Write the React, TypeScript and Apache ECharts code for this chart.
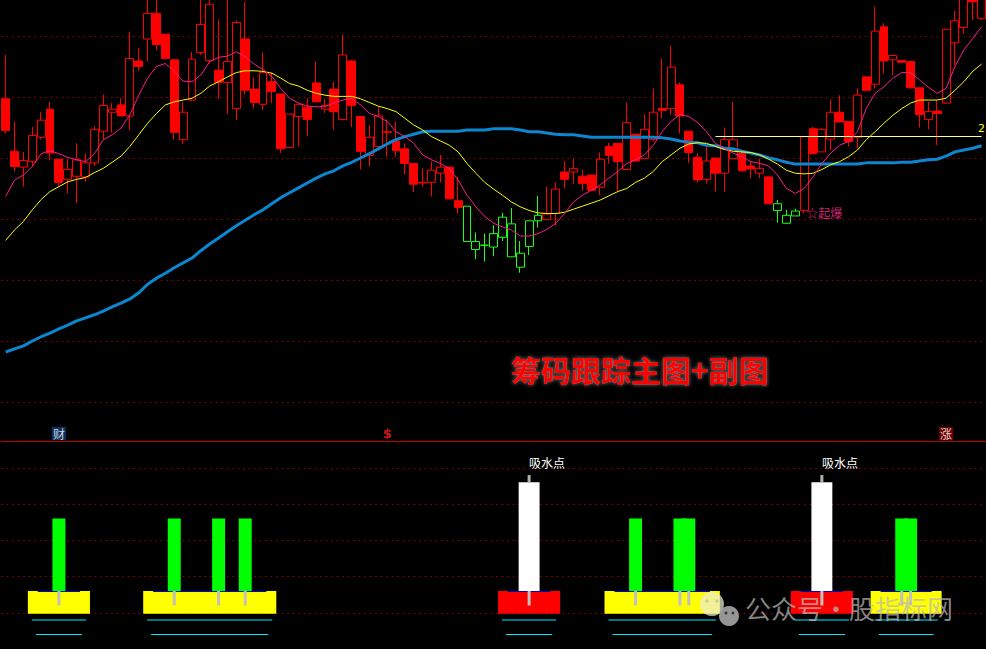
import React, { useEffect, useRef } from 'react';
import * as echarts from 'echarts';

// ---- main chart: daily candles [open, close, low, high] ----
const ohlc: number[][] = [
  [24.97, 24.45, 24.40, 25.69],
  [24.11, 23.86, 23.78, 24.60],
  [23.85, 23.96, 23.53, 24.10],
  [23.94, 24.37, 23.86, 24.51],
  [24.34, 24.62, 24.30, 24.75],
  [24.80, 24.08, 23.96, 24.92],
  [23.98, 23.60, 23.53, 23.98],
  [23.65, 23.81, 23.42, 23.98],
  [23.70, 23.97, 23.26, 24.24],
  [23.69, 23.92, 23.61, 24.07],
  [23.92, 24.47, 23.87, 24.52],
  [24.44, 24.86, 24.30, 25.04],
  [24.75, 24.80, 24.42, 24.90],
  [24.87, 24.69, 24.69, 24.98],
  [24.69, 25.63, 24.46, 26.07],
  [25.59, 25.50, 25.43, 25.80],
  [25.95, 26.37, 25.58, 26.64],
  [26.37, 25.86, 25.77, 26.67],
  [26.03, 25.63, 25.62, 26.03],
  [25.61, 24.42, 24.30, 25.61],
  [24.30, 24.75, 24.23, 24.92],
  [24.95, 25.62, 24.93, 25.74],
  [25.73, 26.19, 25.69, 26.70],
  [25.60, 26.52, 25.55, 26.75],
  [25.44, 25.24, 24.97, 26.27],
  [25.24, 25.58, 24.72, 26.62],
  [24.81, 26.22, 24.62, 26.26],
  [25.95, 25.11, 25.04, 26.56],
  [25.13, 24.91, 24.81, 25.32],
  [24.88, 25.40, 24.79, 25.73],
  [25.25, 25.09, 24.90, 25.40],
  [25.05, 24.15, 24.08, 25.05],
  [24.17, 24.72, 24.16, 24.72],
  [24.68, 24.88, 24.19, 24.88],
  [24.83, 24.63, 24.36, 24.98],
  [25.23, 24.92, 24.92, 25.58],
  [24.80, 24.86, 24.74, 24.97],
  [25.13, 24.76, 24.46, 25.25],
  [24.63, 25.69, 24.62, 26.02],
  [25.59, 24.86, 24.51, 25.61],
  [24.68, 24.11, 23.81, 24.69],
  [24.04, 24.34, 23.86, 24.54],
  [24.19, 24.69, 24.17, 24.84],
  [24.42, 24.43, 24.02, 24.63],
  [24.28, 24.12, 24.02, 24.60],
  [24.15, 23.91, 23.73, 24.24],
  [23.91, 23.57, 23.44, 23.91],
  [23.60, 23.59, 23.53, 23.83],
  [23.60, 23.80, 23.37, 23.94],
  [23.75, 23.85, 23.60, 24.05],
  [23.85, 23.33, 23.32, 23.85],
  [23.30, 23.19, 23.09, 23.69],
  [23.21, 22.63, 22.63, 23.21],
  [22.63, 22.50, 22.34, 22.78],
  [22.57, 22.57, 22.30, 22.76],
  [22.54, 22.76, 22.39, 22.90],
  [22.70, 23.03, 22.64, 23.10],
  [22.92, 22.38, 22.38, 23.18],
  [22.44, 22.21, 22.12, 22.64],
  [22.55, 22.97, 22.41, 22.97],
  [22.97, 23.06, 22.86, 23.38],
  [22.99, 23.08, 22.98, 23.53],
  [23.09, 23.49, 22.89, 23.60],
  [23.77, 23.65, 23.50, 23.95],
  [23.77, 23.83, 23.57, 23.99],
  [23.70, 23.58, 23.46, 23.81],
  [23.72, 23.47, 23.47, 23.72],
  [23.52, 23.98, 23.39, 24.09],
  [24.19, 24.04, 23.91, 24.25],
  [24.24, 23.94, 23.46, 24.24],
  [23.81, 24.58, 23.80, 24.91],
  [24.39, 23.95, 23.95, 24.39],
  [23.99, 24.47, 23.99, 24.72],
  [24.30, 24.75, 24.27, 25.14],
  [24.81, 24.78, 24.65, 25.63],
  [24.81, 25.49, 24.71, 25.84],
  [25.20, 24.69, 24.40, 25.24],
  [24.44, 24.09, 23.92, 24.44],
  [24.01, 23.64, 23.60, 24.08],
  [23.65, 23.95, 23.58, 24.19],
  [24.00, 23.75, 23.45, 24.00],
  [23.75, 24.30, 23.45, 24.50],
  [23.99, 24.30, 23.99, 24.92],
  [24.08, 23.79, 23.78, 24.10],
  [23.87, 23.82, 23.67, 23.94],
  [23.75, 23.83, 23.67, 23.99],
  [23.69, 23.25, 23.25, 23.69],
  [23.14, 23.25, 22.94, 23.31],
  [22.93, 23.06, 22.93, 23.15],
  [23.05, 23.13, 23.05, 23.17],
  [23.14, 24.35, 23.09, 24.35],
  [24.48, 24.07, 24.07, 24.51],
  [24.10, 24.47, 24.10, 24.49],
  [24.31, 24.75, 24.13, 24.96],
  [24.75, 24.59, 24.59, 25.03],
  [24.60, 24.27, 24.19, 24.60],
  [24.34, 25.03, 24.16, 25.14],
  [25.33, 25.11, 25.11, 25.33],
  [25.21, 26.08, 25.14, 26.48],
  [26.15, 25.59, 25.39, 26.21],
  [25.61, 25.68, 25.36, 25.69],
  [25.60, 25.57, 25.57, 25.60],
  [25.58, 25.15, 25.14, 25.58],
  [25.15, 24.71, 24.50, 25.15],
  [24.63, 24.76, 24.47, 24.92],
  [24.77, 24.73, 24.21, 24.95],
  [24.90, 26.11, 24.89, 26.11],
  [25.89, 26.25, 25.52, 26.41],
  [26.14, 26.64, 26.04, 26.70],
  [26.70, 26.56, 26.26, 26.75],
  [26.29, 26.70, 26.26, 26.75],
];

// candles coloured green by the indicator
const greenCandles = [52, 53, 54, 55, 56, 57, 58, 59, 60, 87, 88, 89];

// moving-average lines
const maShort = [
  23.37, 23.64, 23.72, 23.86, 24.07, 24.12, 24.07, 24.01, 23.97, 23.94,
  24.07, 24.30, 24.38, 24.49, 24.71, 25.03, 25.31, 25.50, 25.55, 25.42,
  25.26, 25.25, 25.36, 25.58, 25.65, 25.67, 25.74, 25.66, 25.54, 25.45,
  25.34, 25.14, 24.98, 24.90, 24.85, 24.84, 24.84, 24.90, 24.95, 24.98,
  24.87, 24.73, 24.68, 24.60, 24.43, 24.35, 24.24, 24.05, 23.97, 23.91,
  23.83, 23.64, 23.39, 23.20, 23.04, 22.93, 22.87, 22.82, 22.72, 22.72,
  22.76, 22.83, 22.93, 23.09, 23.28, 23.39, 23.47, 23.56, 23.67, 23.78,
  23.91, 23.97, 24.05, 24.21, 24.43, 24.60, 24.71, 24.68, 24.58, 24.43,
  24.24, 24.16, 24.08, 24.02, 23.94, 23.91, 23.87, 23.72, 23.50, 23.42,
  23.50, 23.69, 23.91, 24.08, 24.21, 24.27, 24.43, 24.81, 25.06, 25.17,
  25.31, 25.40, 25.40, 25.28, 25.16, 25.06, 25.14, 25.50, 25.77, 25.96, 26.15,
];
const maMid = [
  22.65, 22.82, 22.96, 23.15, 23.32, 23.45, 23.53, 23.61, 23.65, 23.68,
  23.76, 23.83, 23.93, 24.03, 24.19, 24.38, 24.57, 24.73, 24.87, 24.92,
  24.95, 24.98, 25.06, 25.18, 25.25, 25.33, 25.40, 25.43, 25.43, 25.42,
  25.39, 25.31, 25.22, 25.18, 25.11, 25.06, 25.03, 25.01, 25.01, 25.01,
  24.97, 24.91, 24.85, 24.81, 24.76, 24.65, 24.54, 24.46, 24.35, 24.28,
  24.21, 24.10, 23.91, 23.75, 23.60, 23.49, 23.39, 23.28, 23.20, 23.14,
  23.10, 23.09, 23.09, 23.11, 23.16, 23.21, 23.26, 23.31, 23.38, 23.45,
  23.50, 23.60, 23.67, 23.78, 23.94, 24.05, 24.16, 24.23, 24.25, 24.24,
  24.19, 24.14, 24.11, 24.10, 24.09, 24.05, 23.98, 23.90, 23.80, 23.75,
  23.74, 23.75, 23.81, 23.89, 23.94, 24.02, 24.13, 24.30, 24.43, 24.57,
  24.70, 24.81, 24.90, 24.95, 24.95, 24.95, 24.98, 25.11, 25.25, 25.42, 25.54,
];
const maLong = [
  20.82, 20.87, 20.92, 21.00, 21.07, 21.13, 21.20, 21.26, 21.33, 21.38,
  21.43, 21.49, 21.56, 21.62, 21.69, 21.79, 21.93, 22.03, 22.11, 22.20,
  22.28, 22.36, 22.48, 22.59, 22.69, 22.79, 22.89, 22.98, 23.07, 23.15,
  23.25, 23.35, 23.43, 23.51, 23.59, 23.67, 23.74, 23.79, 23.87, 23.93,
  24.00, 24.07, 24.15, 24.23, 24.30, 24.35, 24.39, 24.43, 24.44, 24.44,
  24.44, 24.44, 24.46, 24.46, 24.46, 24.48, 24.48, 24.48, 24.46, 24.43,
  24.43, 24.41, 24.39, 24.38, 24.38, 24.36, 24.34, 24.34, 24.34, 24.34,
  24.34, 24.34, 24.34, 24.34, 24.33, 24.31, 24.28, 24.26, 24.25, 24.21,
  24.20, 24.16, 24.15, 24.11, 24.08, 24.05, 24.00, 23.97, 23.93, 23.90,
  23.90, 23.90, 23.90, 23.90, 23.90, 23.90, 23.90, 23.92, 23.92, 23.92,
  23.92, 23.93, 23.93, 23.95, 23.97, 23.98, 24.03, 24.10, 24.13, 24.16, 24.20,
];

const categories = ohlc.map((_, i) => 'D' + (i + 1));

// horizontal pressure line [fromIndex, toIndex, price, label]
const pressureLine: [number, number, number, string] = [80, 110, 24.35, '2'];
// breakout marker [index, price, text]
const breakoutMark: [number, number, string] = [90, 23.1, '☆起爆'];

// ---- sub chart ----
// zones: [startIndex, endIndex, kind] kind 0 = yellow, 1 = red
const zones: number[][] = [
  [3, 9, 0], [16, 30, 0], [56, 62, 1], [68, 80, 0], [89, 95, 1], [98, 105, 0],
];
const greenBars = [6, 19, 24, 27, 71, 76, 77, 101, 102];
const whiteBars = [59, 92];
const whiteBarLabel = '吸水点';
const signalMarks: [number, string][] = [[6, '财'], [43, '$'], [106, '涨']];
const ZONE_TOP = 0.6;
const GREEN_TOP = 2.6;
const WHITE_TOP = 3.6;
const WHITE_TIP = 3.8;
const STUB_LOW = 0.2;
const CYAN_LEVELS = [-0.2, -0.6];

const TITLE = '筹码跟踪主图+副图';
const WATERMARK = '公众号·股指标网';

const CJK = '"Noto Sans CJK SC", "Noto Sans", sans-serif';
const GREEN = '#19ff19';
const RED = '#ff0000';
const GRID_LEFT = 1.25;
const GRID_WIDTH = 987.9;

export default function App() {
  const ref = useRef<HTMLDivElement>(null);

  useEffect(() => {
    document.body.style.margin = '0';
    document.body.style.background = '#000';
    if (!ref.current) return;
    const chart = echarts.init(ref.current, undefined, { renderer: 'svg' });

    const candleData = ohlc.map((v, i) =>
      greenCandles.includes(i)
        ? { value: v, itemStyle: { color: '#000', color0: '#000', borderColor: GREEN, borderColor0: GREEN } }
        : v
    );

    const zoneRender = (_p: any, api: any) => {
      const s = api.value(0);
      const e = api.value(1);
      const red = api.value(2) === 1;
      const band = api.size([1, 0])[0];
      const x0 = api.coord([s, 0])[0] - band / 2;
      const x1 = api.coord([e, 0])[0] + band / 2;
      const yTop = api.coord([s, ZONE_TOP])[1];
      const yBase = api.coord([s, 0])[1];
      const children: any[] = [
        { type: 'rect', shape: { x: x0, y: yTop, width: x1 - x0, height: yBase - yTop + 1 }, style: { fill: red ? '#ff0000' : '#ffff00' } },
        { type: 'line', shape: { x1: x0 + band * 1.12, y1: yTop + 0.5, x2: x1 - band * 1.12, y2: yTop + 0.5 }, style: { stroke: '#0000d0', lineWidth: 1 } },
      ];
      CYAN_LEVELS.forEach((lv, k) => {
        const y = api.coord([s, lv])[1];
        const ins = band * 0.45 * (k + 1);
        children.push({ type: 'line', shape: { x1: x0 + ins, y1: y, x2: x1 - ins, y2: y }, style: { stroke: '#00f0ff', lineWidth: 1 } });
      });
      return { type: 'group', children };
    };

    const barRender = (_p: any, api: any) => {
      const idx = api.value(0);
      const top = api.value(1);
      const white = top === WHITE_TOP;
      const band = api.size([1, 0])[0];
      const cx = api.coord([idx, 0])[0];
      const w = band * (white ? 2.36 : 1.46);
      const yTop = api.coord([idx, top])[1];
      const yZone = api.coord([idx, ZONE_TOP])[1];
      const yStub = api.coord([idx, STUB_LOW])[1];
      const children: any[] = [
        { type: 'rect', shape: { x: cx - w / 2, y: yTop, width: w, height: yZone - yTop }, style: { fill: white ? '#ffffff' : '#00ff00' } },
        { type: 'rect', shape: { x: cx - 1.5, y: yZone, width: 3, height: yStub - yZone }, style: { fill: '#c0c0c0' } },
      ];
      if (white) {
        const yTip = api.coord([idx, WHITE_TIP])[1];
        children.push({ type: 'rect', shape: { x: cx - 1.5, y: yTip, width: 3, height: yTop - yTip }, style: { fill: '#b0b0b0' } });
        children.push({
          type: 'text',
          style: { text: whiteBarLabel, x: cx, y: yTip - 7, fill: '#ffffff', fontSize: 12, fontFamily: CJK, align: 'left', verticalAlign: 'bottom' },
        });
      }
      return { type: 'group', children };
    };

    const markStyle = (t: string) => {
      if (t === '$') return { color: '#ff2020', fontWeight: 'bold', fontSize: 13, fontFamily: 'DejaVu Sans' };
      return {
        color: '#ffffff', fontSize: 12, fontFamily: CJK,
        backgroundColor: t === '财' ? '#0b3a78' : '#8b0000', padding: [1, 1, 0, 1],
      };
    };

    const dotted = { color: '#a00000', type: [1.5, 4], width: 1 };

    const option: any = {
      animation: false,
      backgroundColor: '#000000',
      grid: [
        { left: GRID_LEFT, top: 0, width: GRID_WIDTH, height: 402, containLabel: false },
        { left: GRID_LEFT, top: 441, width: GRID_WIDTH, height: 208.3, containLabel: false },
      ],
      xAxis: [
        { type: 'category', gridIndex: 0, data: categories, show: false, boundaryGap: true },
        {
          type: 'category', gridIndex: 1, data: categories, position: 'top', boundaryGap: true,
          axisLine: { show: true, onZero: false, lineStyle: { color: '#c00000', width: 1.2 } },
          axisTick: { show: false }, axisLabel: { show: false }, splitLine: { show: false },
        },
      ],
      yAxis: [
        {
          type: 'value', gridIndex: 0, min: 20, max: 26.59, interval: 1,
          axisLine: { show: false }, axisTick: { show: false }, axisLabel: { show: false },
          splitLine: { show: true, showMaxLine: false, lineStyle: dotted },
        },
        {
          type: 'value', gridIndex: 1, min: -1, max: 4.74, interval: 1,
          axisLine: { show: false }, axisTick: { show: false }, axisLabel: { show: false },
          splitLine: { show: true, showMaxLine: false, lineStyle: dotted },
        },
      ],
      series: [
        {
          type: 'candlestick', xAxisIndex: 0, yAxisIndex: 0, barWidth: 8.4,
          data: candleData,
          itemStyle: { color: '#000000', color0: RED, borderColor: RED, borderColor0: RED, borderWidth: 1 },
          markLine: {
            silent: true, symbol: ['none', 'none'], label: { show: false },
            lineStyle: { color: '#ffff90', type: 'solid', width: 1 },
            data: [[{ coord: [pressureLine[0], pressureLine[2]] }, { coord: [pressureLine[1], pressureLine[2]] }]],
          },
          z: 2,
        },
        { type: 'line', xAxisIndex: 0, yAxisIndex: 0, data: maLong, symbol: 'none', lineStyle: { color: '#0b86d0', width: 3 }, z: 3 },
        { type: 'line', xAxisIndex: 0, yAxisIndex: 0, data: maMid, symbol: 'none', lineStyle: { color: '#ffff00', width: 1 }, z: 4 },
        { type: 'line', xAxisIndex: 0, yAxisIndex: 0, data: maShort, symbol: 'none', lineStyle: { color: '#ff1a8c', width: 1 }, z: 5 },
        {
          type: 'scatter', xAxisIndex: 0, yAxisIndex: 0, symbolSize: 0,
          data: [[breakoutMark[0], breakoutMark[1]]],
          label: { show: true, position: 'right', distance: 2, formatter: breakoutMark[2], color: '#ff2d95', fontSize: 12, fontFamily: CJK },
          z: 6,
        },
        {
          type: 'custom', xAxisIndex: 1, yAxisIndex: 1,
          data: zones, encode: { x: [0, 1], y: 2 }, renderItem: zoneRender, z: 2,
        },
        {
          type: 'custom', xAxisIndex: 1, yAxisIndex: 1,
          data: [...greenBars.map((i) => [i, GREEN_TOP]), ...whiteBars.map((i) => [i, WHITE_TOP])],
          encode: { x: 0, y: 1 }, renderItem: barRender, z: 3,
        },
        {
          type: 'scatter', xAxisIndex: 1, yAxisIndex: 1, symbolSize: 0,
          data: signalMarks.map(([i, t]) => ({
            value: [i, 4.7], name: t,
            label: { show: true, position: 'inside', offset: [0, -9], formatter: t, ...markStyle(t) },
          })),
          z: 5,
        },
      ],
      graphic: [
        {
          type: 'text', left: 511, top: 354, z: 10,
          style: {
            text: TITLE, fill: '#ff0000', fontSize: 30, fontWeight: 'bold', fontFamily: CJK,
            textShadowColor: 'rgba(140,140,140,0.9)', textShadowBlur: 4,
          },
        },
        {
          type: 'text', left: 978, top: 123, z: 10,
          style: { text: pressureLine[3], fill: '#ffff00', fontSize: 11, fontFamily: 'DejaVu Sans' },
        },
        { type: 'circle', z: 20, shape: { cx: 712, cy: 604, r: 12 }, style: { fill: 'rgba(235,235,215,0.72)' } },
        { type: 'circle', z: 21, shape: { cx: 729, cy: 616, r: 10 }, style: { fill: 'rgba(165,165,165,0.9)' } },
        { type: 'circle', z: 22, shape: { cx: 707, cy: 601, r: 1.6 }, style: { fill: 'rgba(200,200,120,0.9)' } },
        { type: 'circle', z: 22, shape: { cx: 717, cy: 601, r: 1.6 }, style: { fill: 'rgba(200,200,120,0.9)' } },
        { type: 'circle', z: 22, shape: { cx: 726, cy: 613, r: 1.4 }, style: { fill: '#333' } },
        { type: 'circle', z: 22, shape: { cx: 733, cy: 613, r: 1.4 }, style: { fill: '#333' } },
        {
          type: 'text', left: 745, top: 594, z: 20,
          style: { text: WATERMARK, fill: 'rgba(185,185,185,0.72)', fontSize: 26, fontFamily: CJK },
        },
      ],
    };

    chart.setOption(option);
    return () => chart.dispose();
  }, []);

  return <div ref={ref} style={{ width: 986, height: 649, background: '#000' }} />;
}
